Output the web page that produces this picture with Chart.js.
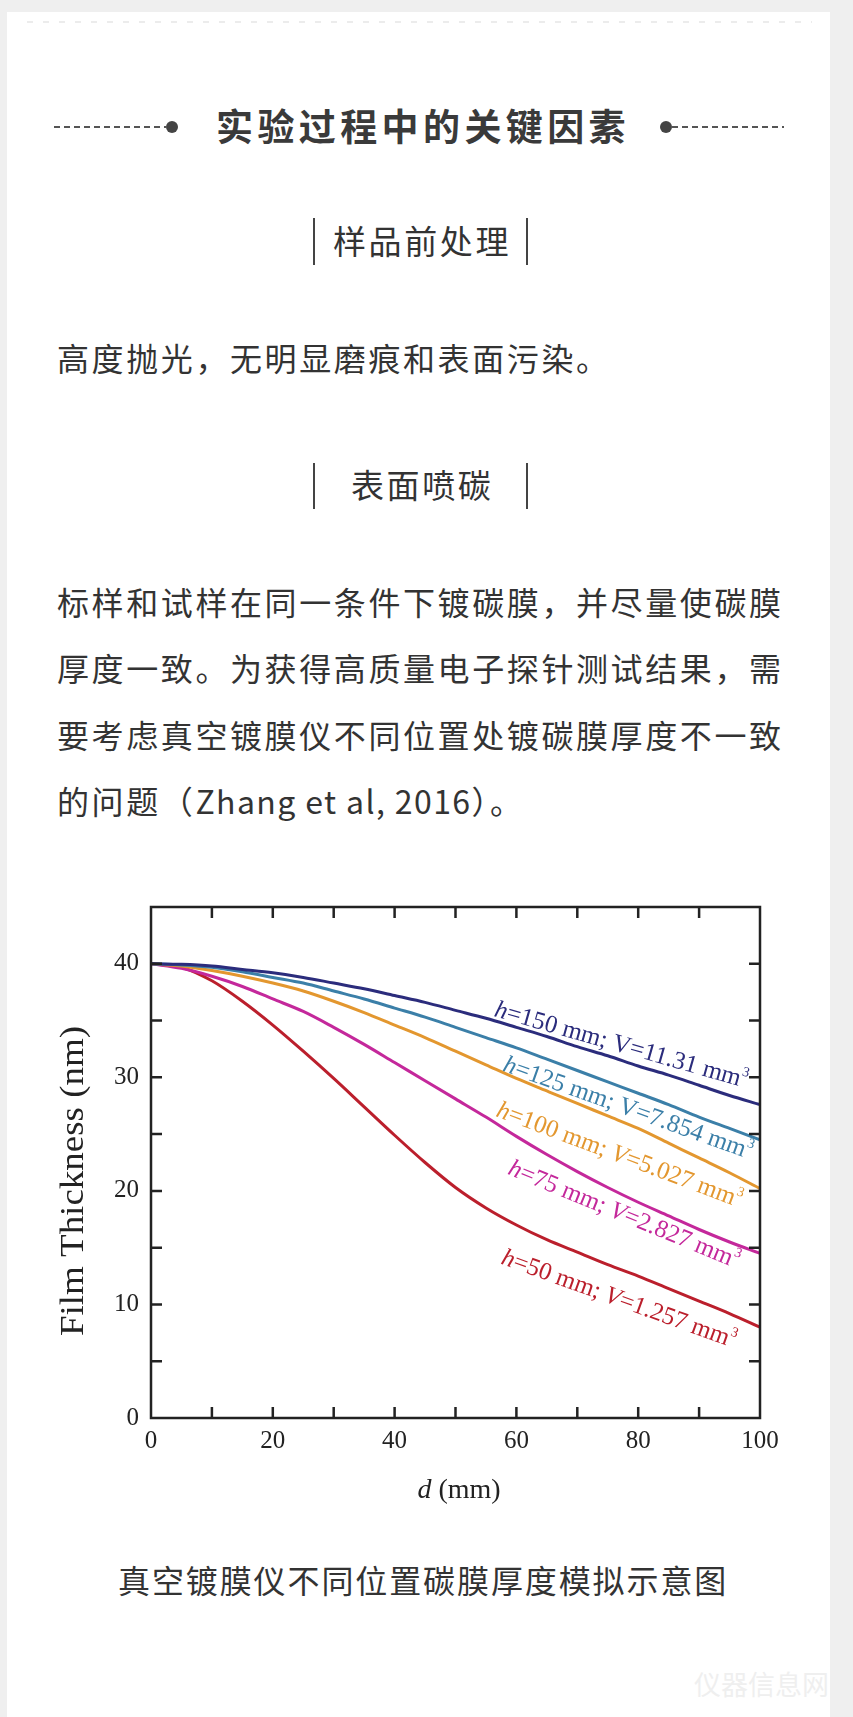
<!DOCTYPE html>
<html lang="zh-CN">
<head>
<meta charset="utf-8">
<title>真空镀膜仪不同位置碳膜厚度模拟示意图</title>
<script src="https://cdn.jsdelivr.net/npm/chart.js@4.4.1/dist/chart.umd.min.js"></script>
<style>
    html, body { margin: 0; padding: 0; }
    body { background: #efefef; }
    #page { position: relative; width: 853px; height: 1717px; overflow: hidden; background: #efefef;
            font-family: "Noto Sans CJK SC", "Noto Sans", sans-serif; color: #333; }
    .card { position: absolute; left: 7px; top: 12px; width: 823px; height: 1720px; background: #fff; }
    .topdots { position: absolute; left: 27px; top: 21px; width: 785px; height: 2px;
               background: repeating-linear-gradient(to right, #ececec 0 6px, transparent 6px 16px); }
    .dash { position: absolute; height: 2px;
            background: repeating-linear-gradient(to right, #555 0 6px, transparent 6px 10px); }
    .dot { position: absolute; width: 12px; height: 12px; border-radius: 50%; background: #444; }
    .txt { position: absolute; white-space: nowrap; }
    .title { left: 216px; top: 100px; font-size: 37px; line-height: 50px; font-weight: bold; letter-spacing: 4.4px; color: #3a3a3a; }
    .sub { font-size: 33px; line-height: 44px; letter-spacing: 2.6px; color: #333; }
    .bar { position: absolute; width: 2px; background: #444; }
    .para { left: 57px; font-size: 32px; letter-spacing: 2.6px; color: #333; }
    .latin { letter-spacing: 1.4px; }
    .caption { left: 118px; top: 1557px; font-size: 32px; line-height: 44px; letter-spacing: 1.9px; color: #333; }
    .mark { left: 694px; top: 1664px; font-size: 27px; line-height: 40px; color: #efefef; }
    #filmChart { position: absolute; left: 0; top: 880px; }
</style>
</head>
<body>
<div id="page">
    <div class="card"></div>
    <div class="topdots"></div>

    <div class="dash" style="left:54px; top:126px; width:112px;"></div>
    <div class="dot" style="left:166px; top:121px;"></div>
    <div class="txt title">实验过程中的关键因素</div>
    <div class="dot" style="left:660px; top:121px;"></div>
    <div class="dash" style="left:672px; top:126px; width:112px;"></div>

    <div class="bar" style="left:313px; top:218px; height:47px;"></div>
    <div class="txt sub" style="left:333px; top:218px;">样品前处理</div>
    <div class="bar" style="left:526px; top:218px; height:47px;"></div>

    <div class="txt para" style="top:335px; line-height:44px;">高度抛光，无明显磨痕和表面污染。</div>

    <div class="bar" style="left:313px; top:463px; height:46px;"></div>
    <div class="txt sub" style="left:351px; top:462px;">表面喷碳</div>
    <div class="bar" style="left:526px; top:463px; height:46px;"></div>

    <div class="txt para" style="top:568px; line-height:66.4px;">标样和试样在同一条件下镀碳膜，并尽量使碳膜<br>厚度一致。为获得高质量电子探针测试结果，需<br>要考虑真空镀膜仪不同位置处镀碳膜厚度不一致<br>的问题（<span class="latin">Zhang et al, 2016</span>）。</div>

    <canvas id="filmChart" width="853" height="640"></canvas>

    <div class="txt caption">真空镀膜仪不同位置碳膜厚度模拟示意图</div>
    <div class="txt mark">仪器信息网</div>
</div>

<script>
// Film thickness vs. distance from centre

const distance = [0, 5, 10, 15, 20, 25, 30, 35, 40, 45, 50, 55, 60, 65, 70, 75, 80, 85, 90, 95, 100];

const thick150 = [40, 39.95, 39.8, 39.5, 39.2, 38.8, 38.3, 37.8, 37.2, 36.6, 35.9, 35.2, 34.4, 33.6, 32.7, 31.9, 31.0, 30.2, 29.3, 28.4, 27.6];
const thick125 = [40, 39.9, 39.7, 39.3, 38.8, 38.3, 37.6, 36.9, 36.1, 35.3, 34.4, 33.5, 32.6, 31.6, 30.6, 29.6, 28.6, 27.6, 26.5, 25.5, 24.5];
const thick100 = [40, 39.8, 39.4, 38.9, 38.3, 37.6, 36.7, 35.7, 34.6, 33.5, 32.3, 31.1, 29.9, 28.8, 27.7, 26.6, 25.5, 24.2, 22.9, 21.6, 20.2];
const thick75  = [40, 39.6, 38.9, 38.0, 36.9, 35.8, 34.4, 32.9, 31.3, 29.7, 28.1, 26.5, 24.8, 23.2, 21.7, 20.3, 19.0, 17.8, 16.6, 15.5, 14.5];
const thick50  = [40, 39.7, 38.5, 36.7, 34.6, 32.3, 29.9, 27.4, 24.9, 22.5, 20.3, 18.5, 17.0, 15.7, 14.6, 13.5, 12.5, 11.4, 10.3, 9.2, 8.0];

const heights = ['150', '125', '100', '75', '50'];
const volumes = ['11.31', '7.854', '5.027', '2.827', '1.257'];
const volumeItalic = [false, false, true, true, true];
const lineColors = ['#2b2c7c', '#3b7fa8', '#e3972f', '#c4289b', '#bb1f2c'];

// label anchors in data units (d, thickness) and baseline angle in degrees
const labelAnchor = [[56.2, 35.4], [57.6, 30.6], [56.5, 26.6], [58.4, 21.5], [57.3, 13.6]];
const labelAngle = [15.9, 19.7, 20.6, 22.4, 19.9];

const xTickLabels = [0, 20, 40, 60, 80, 100];
const yTickLabels = [0, 10, 20, 30, 40];

const serif = 'Liberation Serif, Times New Roman, serif';

const allSeries = [thick150, thick125, thick100, thick75, thick50];

// Frame with inward ticks on all four sides, axis titles and curve labels
const framePlugin = {
    id: 'frame',
    afterDatasetsDraw(chart) {
        const ctx = chart.ctx;
        const { left, right, top, bottom } = chart.chartArea;
        const xs = chart.scales.x;
        const ys = chart.scales.y;

        ctx.save();
        ctx.strokeStyle = '#222';
        ctx.lineWidth = 2.5;
        ctx.strokeRect(left, top, right - left, bottom - top);

        ctx.beginPath();
        xs.ticks.forEach(t => {
            if (t.value <= 0 || t.value >= 100) return;
            const px = xs.getPixelForValue(t.value);
            ctx.moveTo(px, bottom);
            ctx.lineTo(px, bottom - 11);
            ctx.moveTo(px, top);
            ctx.lineTo(px, top + 11);
        });
        ys.ticks.forEach(t => {
            if (t.value <= 0 || t.value >= 45) return;
            const py = ys.getPixelForValue(t.value);
            ctx.moveTo(left, py);
            ctx.lineTo(left + 11, py);
            ctx.moveTo(right, py);
            ctx.lineTo(right - 11, py);
        });
        ctx.stroke();
        ctx.restore();

        // curve labels
        heights.forEach((h, i) => {
            const x0 = xs.getPixelForValue(labelAnchor[i][0]);
            const y0 = ys.getPixelForValue(labelAnchor[i][1]);
            ctx.save();
            ctx.translate(x0, y0);
            ctx.rotate(labelAngle[i] * Math.PI / 180);
            ctx.fillStyle = lineColors[i];
            ctx.textBaseline = 'alphabetic';
            ctx.textAlign = 'left';
            const parts = [
                ['h', 'italic', 25, 0],
                ['=' + h + ' mm; ', 'normal', 25, 0],
                ['V', volumeItalic[i] ? 'italic' : 'normal', 25, 0],
                ['=' + volumes[i] + ' mm', 'normal', 25, 0],
                ['3', 'normal', 14, -11]
            ];
            let cx = 0;
            parts.forEach(p => {
                ctx.font = p[1] + ' ' + p[2] + 'px ' + serif;
                ctx.fillText(p[0], cx, p[3]);
                cx += ctx.measureText(p[0]).width;
            });
            ctx.restore();
        });

        // y axis title
        ctx.save();
        ctx.translate(74, 301);
        ctx.rotate(-Math.PI / 2);
        ctx.scale(1.12, 1);
        ctx.font = '33px ' + serif;
        ctx.fillStyle = '#222';
        ctx.textAlign = 'center';
        ctx.textBaseline = 'middle';
        ctx.fillText('Film Thickness (nm)', 0, 0);
        ctx.restore();

        // x axis title: italic d + (mm)
        ctx.save();
        ctx.fillStyle = '#222';
        ctx.textBaseline = 'alphabetic';
        ctx.font = 'italic 28px ' + serif;
        const wd = ctx.measureText('d').width;
        ctx.font = '28px ' + serif;
        const wr = ctx.measureText(' (mm)').width;
        const sx = 459 - (wd + wr) / 2;
        ctx.font = 'italic 28px ' + serif;
        ctx.fillText('d', sx, 618);
        ctx.font = '28px ' + serif;
        ctx.fillText(' (mm)', sx + wd, 618);
        ctx.restore();
    }
};

const chartCanvas = document.getElementById('filmChart');

new Chart(chartCanvas, {
    type: 'line',
    data: {
        datasets: allSeries.map((vals, i) => ({
            label: 'h=' + heights[i] + ' mm',
            data: distance.map((d, j) => ({ x: d, y: vals[j] })),
            borderColor: lineColors[i],
            borderWidth: 3,
            pointRadius: 0,
            fill: false,
            cubicInterpolationMode: 'monotone'
        }))
    },
    options: {
        responsive: false,
        animation: false,
        devicePixelRatio: 1,
        layout: {
            padding: { left: 0, right: 93, top: 27, bottom: 0 }
        },
        plugins: {
            legend: { display: false },
            tooltip: { enabled: false }
        },
        scales: {
            x: {
                type: 'linear',
                min: 0,
                max: 100,
                border: { display: false },
                grid: { display: false, drawTicks: false },
                ticks: {
                    stepSize: 10,
                    autoSkip: false,
                    maxRotation: 0,
                    padding: 8,
                    color: '#222',
                    font: { family: serif, size: 25 },
                    callback: v => xTickLabels.includes(v) ? String(v) : ''
                },
                afterFit: s => { s.height = 102; }
            },
            y: {
                type: 'linear',
                min: 0,
                max: 45,
                border: { display: false },
                grid: { display: false, drawTicks: false },
                ticks: {
                    stepSize: 5,
                    autoSkip: false,
                    padding: 12,
                    color: '#222',
                    font: { family: serif, size: 25 },
                    callback: v => yTickLabels.includes(v) ? String(v) : ''
                },
                afterFit: s => { s.width = 151; }
            }
        }
    },
    plugins: [framePlugin]
});
</script>
</body>
</html>
